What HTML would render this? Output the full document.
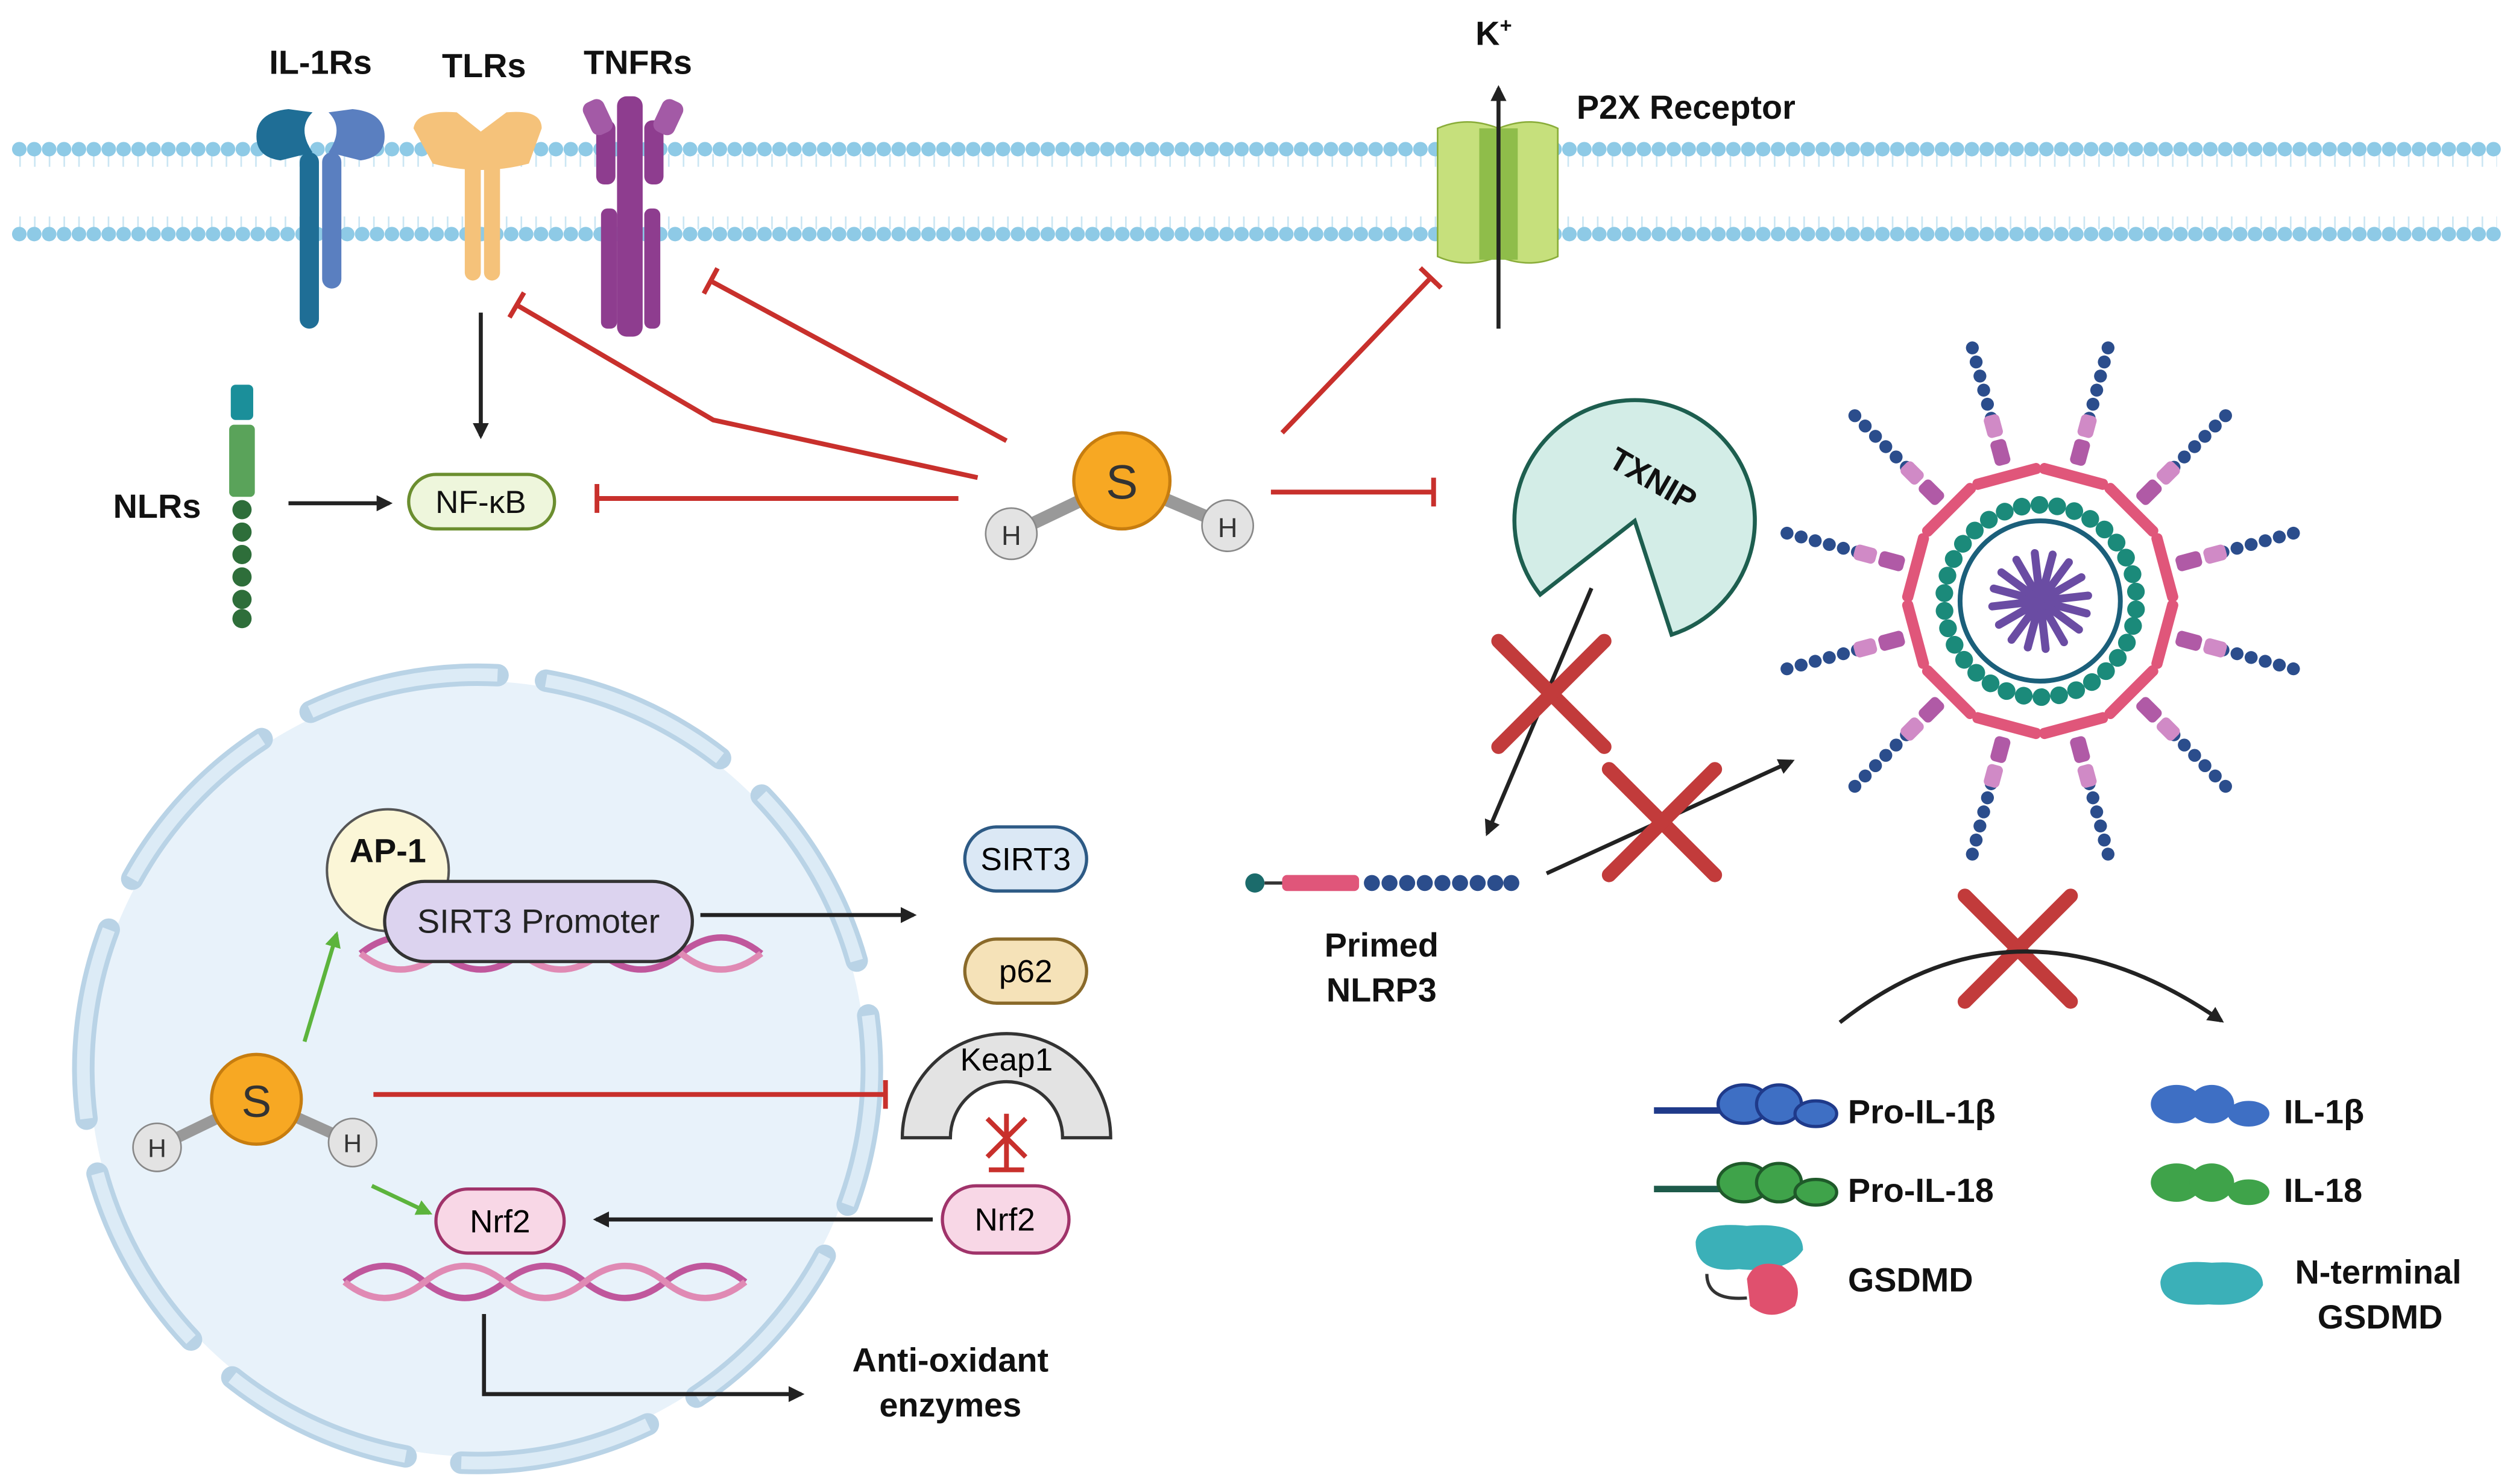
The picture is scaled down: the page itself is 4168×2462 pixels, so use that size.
<!DOCTYPE html>
<html><head><meta charset="utf-8"><style>html,body{margin:0;padding:0;background:#fff}svg{display:block}text{font-family:"Liberation Sans",sans-serif}</style></head><body>
<svg width="4168" height="2462" viewBox="0 0 1568 926" xmlns="http://www.w3.org/2000/svg">
<defs>
<marker id="ab" markerWidth="10" markerHeight="10" refX="8" refY="5" orient="auto" markerUnits="userSpaceOnUse"><path d="M0,0 L10,5 L0,10 Z" fill="#222"/></marker>
<marker id="ag" markerWidth="10" markerHeight="10" refX="8" refY="5" orient="auto" markerUnits="userSpaceOnUse"><path d="M0,0 L10,5 L0,10 Z" fill="#5cb43c"/></marker>
<marker id="tb" markerWidth="4" markerHeight="18" refX="2" refY="9" orient="auto" markerUnits="userSpaceOnUse"><rect x="0" y="0" width="3" height="18" fill="#c8302c"/></marker>
</defs>
<g stroke="#8ecae6">
<line x1="12" y1="93" x2="1558" y2="93" stroke-width="9" stroke-dasharray="0.1 9.2" stroke-linecap="round"/>
<line x1="12" y1="146" x2="1558" y2="146" stroke-width="9" stroke-dasharray="0.1 9.2" stroke-linecap="round"/>
<line x1="12" y1="100" x2="1558" y2="100" stroke-width="8" stroke-dasharray="1 8.2" opacity="0.45"/>
<line x1="12" y1="139" x2="1558" y2="139" stroke-width="8" stroke-dasharray="1 8.2" opacity="0.45"/>
</g>
<g>
<rect x="187" y="95" width="12" height="110" rx="6" fill="#1f6e96"/>
<rect x="201" y="95" width="12" height="85" rx="6" fill="#5a7fc0"/>
<path d="M160,85 Q160,70 180,68 L195,70 Q185,80 195,95 L175,100 Q160,98 160,85Z" fill="#1f6e96"/>
<path d="M240,85 Q240,70 220,68 L205,70 Q215,80 205,95 L225,100 Q240,98 240,85Z" fill="#5a7fc0"/>
<rect x="290" y="100" width="10" height="75" rx="5" fill="#f5c27a"/><rect x="302" y="100" width="10" height="75" rx="5" fill="#f5c27a"/>
<path d="M258,80 Q260,68 285,70 L300,82 L316,70 Q338,68 338,80 L330,102 Q300,110 270,102Z" fill="#f5c27a"/>
<g fill="#8e3d8f"><rect x="385" y="60" width="16" height="150" rx="6"/><rect x="372" y="75" width="12" height="40" rx="5"/><rect x="402" y="75" width="12" height="40" rx="5"/><rect x="375" y="130" width="10" height="75" rx="4"/><rect x="402" y="130" width="10" height="75" rx="4"/></g>
<rect x="366" y="62" width="14" height="22" rx="5" fill="#a35aa6" transform="rotate(-25 373 73)"/><rect x="410" y="62" width="14" height="22" rx="5" fill="#a35aa6" transform="rotate(25 417 73)"/>
<path d="M897,80 Q915,72 935,80 L935,160 Q915,168 897,160Z" fill="#c6e07c" stroke="#8aad3a"/>
<path d="M935,80 Q955,72 972,80 L972,160 Q955,168 935,160Z" fill="#c6e07c" stroke="#8aad3a"/>
<rect x="923" y="80" width="24" height="82" fill="#8fbd4a"/>
<line x1="935" y1="205" x2="935" y2="55" stroke="#222" stroke-width="2.5" marker-end="url(#ab)"/>
</g>
<g font-weight="bold" font-size="21" fill="#111" text-anchor="middle">
<text x="200" y="46">IL-1Rs</text><text x="302" y="48">TLRs</text><text x="398" y="46">TNFRs</text>
<text x="932" y="28">K<tspan font-size="13" dy="-8">+</tspan></text>
<text x="1052" y="74">P2X Receptor</text>
<text x="98" y="323">NLRs</text>
<text x="862" y="597">Primed</text><text x="862" y="625">NLRP3</text>
<text x="593" y="856">Anti-oxidant</text><text x="593" y="884">enzymes</text>
</g>
<rect x="144" y="240" width="14" height="22" rx="3" fill="#1b8f9a"/>
<rect x="143" y="265" width="16" height="45" rx="3" fill="#5aa35a"/>
<g fill="#2e6e3a"><circle cx="151" cy="318" r="6"/><circle cx="151" cy="332" r="6"/><circle cx="151" cy="346" r="6"/><circle cx="151" cy="360" r="6"/><circle cx="151" cy="374" r="6"/><circle cx="151" cy="386" r="6"/></g>
<line x1="180" y1="314" x2="243" y2="314" stroke="#222" stroke-width="2.5" marker-end="url(#ab)"/>
<line x1="300" y1="195" x2="300" y2="272" stroke="#222" stroke-width="2.5" marker-end="url(#ab)"/>
<rect x="255" y="296" width="91" height="34" rx="17" fill="#eef6dc" stroke="#6b8e2f" stroke-width="2"/>
<text x="300" y="320" font-size="20" text-anchor="middle" fill="#111">NF-κB</text>
<g stroke="#c8302c" stroke-width="3" fill="none">
<line x1="628" y1="275" x2="443" y2="175" marker-end="url(#tb)"/>
<polyline points="610,298 445,262 322,190" marker-end="url(#tb)"/>
<line x1="598" y1="311" x2="372" y2="311" marker-end="url(#tb)"/>
<line x1="800" y1="270" x2="893" y2="173" marker-end="url(#tb)"/>
<line x1="793" y1="307" x2="895" y2="307" marker-end="url(#tb)"/>
</g>
<line x1="631" y1="333" x2="700" y2="300" stroke="#999" stroke-width="8"/><line x1="766" y1="328" x2="700" y2="300" stroke="#999" stroke-width="8"/>
<circle cx="631" cy="333" r="16" fill="#e3e3e3" stroke="#888"/><circle cx="766" cy="328" r="16" fill="#e3e3e3" stroke="#888"/>
<circle cx="700" cy="300" r="30" fill="#f7a823" stroke="#c77d0f" stroke-width="2"/>
<text x="700" y="311" font-size="30" text-anchor="middle" fill="#333">S</text>
<text x="631" y="340" font-size="17" text-anchor="middle" fill="#333">H</text><text x="766" y="335" font-size="17" text-anchor="middle" fill="#333">H</text>
<path d="M1020,325 L961,371 A75,75 0 1,1 1043,396 Z" fill="#d3ede7" stroke="#1d5e4f" stroke-width="2.5"/>
<text x="1028" y="305" font-size="20" font-weight="bold" text-anchor="middle" transform="rotate(30 1028 305)" fill="#111">TXNIP</text>
<line x1="993" y1="367" x2="928" y2="520" stroke="#222" stroke-width="2.5" marker-end="url(#ab)"/>
<line x1="965" y1="545" x2="1118" y2="475" stroke="#222" stroke-width="2.5" marker-end="url(#ab)"/>
<circle cx="783" cy="551" r="6" fill="#1b6b6b"/><line x1="789" y1="551" x2="800" y2="551" stroke="#333" stroke-width="2"/>
<rect x="800" y="546" width="48" height="10" rx="3" fill="#e0567a"/>
<g fill="#2b4d8c"><circle cx="856" cy="551" r="5"/><circle cx="867" cy="551" r="5"/><circle cx="878" cy="551" r="5"/><circle cx="889" cy="551" r="5"/><circle cx="900" cy="551" r="5"/><circle cx="911" cy="551" r="5"/><circle cx="922" cy="551" r="5"/><circle cx="933" cy="551" r="5"/><circle cx="943" cy="551" r="5"/></g>
<g transform="translate(1273,375) rotate(15)">
<g id="spk">
<line x1="0" y1="-118" x2="0" y2="-172" stroke="#2b4d8c" stroke-width="8" stroke-dasharray="0.1 9" stroke-linecap="round"/>
<rect x="-5" y="-104" width="10" height="16" rx="3" fill="#b05aa6"/>
<rect x="-5" y="-120" width="10" height="14" rx="3" fill="#d08ac6"/>
<rect x="-22" y="-84" width="44" height="7" rx="3" fill="#e0567a"/>
</g>
<use href="#spk" transform="rotate(30)"/><use href="#spk" transform="rotate(60)"/><use href="#spk" transform="rotate(90)"/><use href="#spk" transform="rotate(120)"/><use href="#spk" transform="rotate(150)"/><use href="#spk" transform="rotate(180)"/><use href="#spk" transform="rotate(210)"/><use href="#spk" transform="rotate(240)"/><use href="#spk" transform="rotate(270)"/><use href="#spk" transform="rotate(300)"/><use href="#spk" transform="rotate(330)"/>
<circle r="60" fill="none" stroke="#1b8a7a" stroke-width="11" stroke-dasharray="0.1 11" stroke-linecap="round"/>
<circle r="50" fill="none" stroke="#1b5f7a" stroke-width="3"/>
<circle r="44" fill="#fff"/>
<g stroke="#6a4ca3" stroke-width="5" stroke-linecap="round"><line x1="-30" y1="0" x2="30" y2="0"/><line x1="0" y1="-30" x2="0" y2="30"/><line x1="-21" y1="-21" x2="21" y2="21"/><line x1="-21" y1="21" x2="21" y2="-21"/><line x1="-28" y1="-11" x2="28" y2="11"/><line x1="-28" y1="11" x2="28" y2="-11"/><line x1="-11" y1="-28" x2="11" y2="28"/><line x1="11" y1="-28" x2="-11" y2="28"/></g>
</g>
<g stroke="#c23b3b" stroke-width="9" stroke-linecap="round">
<line x1="935" y1="400" x2="1001" y2="466"/><line x1="1001" y1="400" x2="935" y2="466"/>
<line x1="1004" y1="480" x2="1070" y2="546"/><line x1="1070" y1="480" x2="1004" y2="546"/>
<line x1="1226" y1="559" x2="1292" y2="625"/><line x1="1292" y1="559" x2="1226" y2="625"/>
</g>
<path d="M1148,638 Q1260,550 1386,637" fill="none" stroke="#222" stroke-width="2.5" marker-end="url(#ab)"/>
<line x1="1032" y1="693" x2="1078" y2="693" stroke="#1f3a8a" stroke-width="4"/>
<ellipse cx="1088" cy="689" rx="16" ry="12" fill="#3e6fc4" stroke="#1f3a8a" stroke-width="2"/><ellipse cx="1110" cy="689" rx="14" ry="12" fill="#3e6fc4" stroke="#1f3a8a" stroke-width="2"/><ellipse cx="1133" cy="695" rx="13" ry="8" fill="#3e6fc4" stroke="#1f3a8a" stroke-width="2"/>
<line x1="1032" y1="742" x2="1078" y2="742" stroke="#1d5a4a" stroke-width="4"/>
<ellipse cx="1088" cy="738" rx="16" ry="12" fill="#3fa34a" stroke="#1f5a2a" stroke-width="2"/><ellipse cx="1110" cy="738" rx="14" ry="12" fill="#3fa34a" stroke="#1f5a2a" stroke-width="2"/><ellipse cx="1133" cy="744" rx="13" ry="8" fill="#3fa34a" stroke="#1f5a2a" stroke-width="2"/>
<path d="M1058,775 Q1060,762 1090,765 Q1125,762 1125,780 Q1115,795 1085,792 Q1058,795 1058,775Z" fill="#3bb0b8"/>
<path d="M1065,795 Q1065,812 1090,810" fill="none" stroke="#333" stroke-width="2"/>
<path d="M1090,798 Q1095,785 1112,790 Q1126,800 1120,815 Q1105,826 1092,815Z" fill="#e0506e"/>
<ellipse cx="1358" cy="689" rx="16" ry="12" fill="#3e6fc4"/><ellipse cx="1380" cy="689" rx="14" ry="12" fill="#3e6fc4"/><ellipse cx="1403" cy="695" rx="13" ry="8" fill="#3e6fc4"/>
<ellipse cx="1358" cy="738" rx="16" ry="12" fill="#3fa34a"/><ellipse cx="1380" cy="738" rx="14" ry="12" fill="#3fa34a"/><ellipse cx="1403" cy="744" rx="13" ry="8" fill="#3fa34a"/>
<path d="M1348,800 Q1350,785 1380,788 Q1412,786 1412,802 Q1405,816 1378,814 Q1348,816 1348,800Z" fill="#3bb0b8"/>
<g font-weight="bold" font-size="21" fill="#111">
<text x="1153" y="701">Pro-IL-1β</text><text x="1153" y="750">Pro-IL-18</text><text x="1153" y="806">GSDMD</text>
<text x="1425" y="701">IL-1β</text><text x="1425" y="750">IL-18</text><text x="1432" y="801">N-terminal</text><text x="1446" y="829">GSDMD</text>
</g>
<circle cx="298" cy="667" r="242" fill="#e8f2fa"/>
<circle cx="298" cy="667" r="246" fill="none" stroke="#b9d3e6" stroke-width="14" stroke-dasharray="120 35" stroke-linecap="round" transform="rotate(-80 298 667)"/>
<circle cx="298" cy="667" r="246" fill="none" stroke="#dcebf6" stroke-width="8" stroke-dasharray="120 35" transform="rotate(-80 298 667)"/>
<g fill="none" stroke-width="4">
<path d="M225,595 Q250,575 275,595 T325,595 T375,595 T425,595 T475,595" stroke="#c0579c"/>
<path d="M225,595 Q250,615 275,595 T325,595 T375,595 T425,595 T475,595" stroke="#e08ab4"/>
<path d="M215,800 Q240,780 265,800 T315,800 T365,800 T415,800 T465,800" stroke="#c0579c"/>
<path d="M215,800 Q240,820 265,800 T315,800 T365,800 T415,800 T465,800" stroke="#e08ab4"/>
</g>
<circle cx="242" cy="543" r="38" fill="#fbf6d7" stroke="#555" stroke-width="1.5"/>
<text x="242" y="538" font-size="21" font-weight="bold" text-anchor="middle" fill="#111">AP-1</text>
<rect x="240" y="550" width="192" height="50" rx="25" fill="#dcd3ef" stroke="#333" stroke-width="2"/>
<text x="336" y="582" font-size="21" text-anchor="middle" fill="#222">SIRT3 Promoter</text>
<line x1="437" y1="571" x2="570" y2="571" stroke="#222" stroke-width="2.5" marker-end="url(#ab)"/>
<rect x="602" y="516" width="76" height="40" rx="20" fill="#dbe8f5" stroke="#2d5a85" stroke-width="2"/><text x="640" y="543" font-size="20" text-anchor="middle">SIRT3</text>
<rect x="602" y="586" width="76" height="40" rx="20" fill="#f5e2b8" stroke="#8a6a2a" stroke-width="2"/><text x="640" y="613" font-size="20" text-anchor="middle">p62</text>
<path d="M563,710 A65,65 0 0,1 693,710 L663,710 A35,35 0 0,0 593,710 Z" fill="#e3e3e3" stroke="#333" stroke-width="2"/>
<text x="628" y="668" font-size="20" text-anchor="middle">Keap1</text>
<g stroke="#c8302c" stroke-width="3"><line x1="628" y1="695" x2="628" y2="730"/><line x1="617" y1="730" x2="639" y2="730"/><line x1="616" y1="698" x2="640" y2="722"/><line x1="640" y1="698" x2="616" y2="722"/></g>
<rect x="588" y="740" width="79" height="42" rx="21" fill="#f8d7e6" stroke="#a0336a" stroke-width="2"/><text x="627" y="768" font-size="20" text-anchor="middle">Nrf2</text>
<line x1="582" y1="761" x2="372" y2="761" stroke="#222" stroke-width="2.5" marker-end="url(#ab)"/>
<rect x="272" y="742" width="80" height="40" rx="20" fill="#f8d7e6" stroke="#a0336a" stroke-width="2"/><text x="312" y="769" font-size="20" text-anchor="middle">Nrf2</text>
<polyline points="302,820 302,870 500,870" fill="none" stroke="#222" stroke-width="2.5" marker-end="url(#ab)"/>
<line x1="98" y1="716" x2="160" y2="686" stroke="#999" stroke-width="7"/><line x1="220" y1="713" x2="160" y2="686" stroke="#999" stroke-width="7"/>
<circle cx="98" cy="716" r="15" fill="#e3e3e3" stroke="#888"/><circle cx="220" cy="713" r="15" fill="#e3e3e3" stroke="#888"/>
<circle cx="160" cy="686" r="28" fill="#f7a823" stroke="#c77d0f" stroke-width="2"/>
<text x="160" y="697" font-size="28" text-anchor="middle" fill="#333">S</text>
<text x="98" y="722" font-size="16" text-anchor="middle" fill="#333">H</text><text x="220" y="719" font-size="16" text-anchor="middle" fill="#333">H</text>
<line x1="190" y1="650" x2="210" y2="583" stroke="#5cb43c" stroke-width="2.5" marker-end="url(#ag)"/>
<line x1="232" y1="740" x2="268" y2="757" stroke="#5cb43c" stroke-width="2.5" marker-end="url(#ag)"/>
<line x1="233" y1="683" x2="553" y2="683" stroke="#c8302c" stroke-width="3" marker-end="url(#tb)"/>
</svg>
</body></html>
